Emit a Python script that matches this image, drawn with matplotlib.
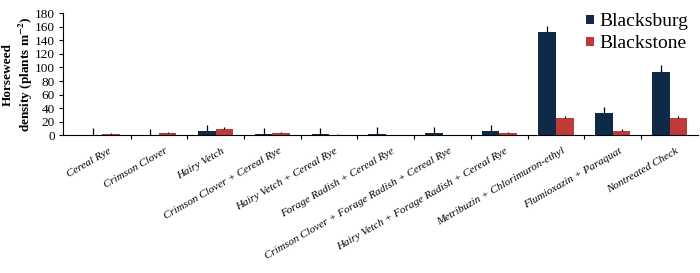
import matplotlib

matplotlib.use("Agg")
import matplotlib.pyplot as plt
import matplotlib.transforms as mtransforms
import numpy as np

# Data
treatments = [
    "Cereal Rye",
    "Crimson Clover",
    "Hairy Vetch",
    "Crimson Clover + Cereal Rye",
    "Hairy Vetch + Cereal Rye",
    "Forage Radish + Cereal Rye",
    "Crimson Clover + Forage Radish + Cereal Rye",
    "Hairy Vetch + Forage Radish + Cereal Rye",
    "Metribuzin + Chlorimuron-ethyl",
    "Flumioxazin + Paraquat",
    "Nontreated Check",
]
blacksburg = [0.5, 0.3, 6, 1, 1, 1.5, 2.5, 6, 153, 33, 94]
blacksburg_err = [9.5, 9.5, 9, 9, 9, 10, 10, 9, 9, 9, 9]
blackstone = [1, 3, 9, 3, 0.3, 0.3, 0.3, 2.5, 26, 6, 25]
blackstone_err = [2, 2, 3, 2, 1.5, 0.5, 0.5, 1.5, 3, 3, 3]

navy = "#0f2a47"
red = "#bf3a3a"

plt.rcParams["font.family"] = "Liberation Serif"
plt.rcParams["mathtext.fontset"] = "stix"

fig = plt.figure(figsize=(7, 2.73), dpi=100)
ax = fig.add_axes([0.09, 0.505, 0.907, 0.446])

x = np.arange(len(treatments))
w = 0.31
ax.bar(x - w / 2, blacksburg, w, color=navy, label="Blacksburg")
ax.bar(x + w / 2, blackstone, w, color=red, label="Blackstone")
# one-sided error bars, no caps
ax.errorbar(x - w / 2, blacksburg, yerr=[np.zeros(len(x)), blacksburg_err],
            fmt="none", ecolor="black", elinewidth=0.9, capsize=0)
ax.errorbar(x + w / 2, blackstone, yerr=[np.zeros(len(x)), blackstone_err],
            fmt="none", ecolor="black", elinewidth=0.9, capsize=0)

ax.set_xlim(-0.69, 10.5)
ax.set_ylim(0, 180)
ax.set_yticks(np.arange(0, 181, 20))
ax.tick_params(axis="y", labelsize=9.5, length=3, width=0.8, pad=3)

ax.set_xticks(x)
ax.set_xticklabels(treatments, rotation=30, ha="right", va="top",
                   rotation_mode="anchor", fontstyle="italic", fontsize=8)
ax.tick_params(axis="x", which="major", length=0, pad=8)
ax.set_xticks(x[:-1] + 0.5, minor=True)
ax.tick_params(axis="x", which="minor", length=3, width=0.8)
# nudge labels a little to the right
shift = mtransforms.ScaledTranslation(6 / 100, 0, fig.dpi_scale_trans)
for lbl in ax.get_xticklabels():
    lbl.set_transform(lbl.get_transform() + shift)

for s in ["top", "right"]:
    ax.spines[s].set_visible(False)
ax.spines["left"].set_linewidth(0.8)
ax.spines["bottom"].set_linewidth(0.8)

ax.set_ylabel("Horseweed\ndensity (plants m$^{\\mathbf{-2}}$)", fontweight="bold",
              fontsize=9.5, linespacing=1.25)
ax.yaxis.set_label_coords(-0.044, 0.5)

ax.legend(loc="upper right", bbox_to_anchor=(0.985, 1.0), frameon=False,
          fontsize=14, handlelength=0.37, handleheight=0.37,
          handletextpad=0.3, labelspacing=0.25, borderaxespad=0,
          borderpad=0)

fig.savefig("out.png", dpi=100)
